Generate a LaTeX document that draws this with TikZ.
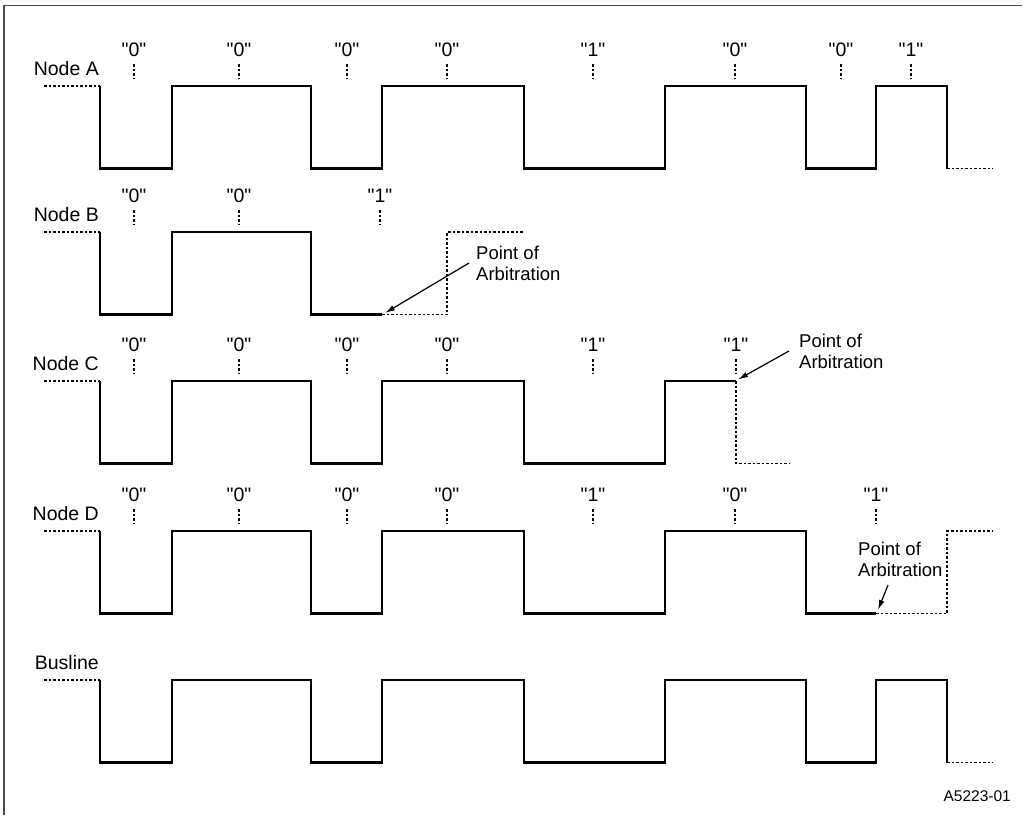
\documentclass[tikz,border=0pt]{standalone}
\usepackage{fontspec}
\setmainfont{Liberation Sans}
\newfontfamily\plainfont{Liberation Sans}
\usetikzlibrary{arrows.meta}
\begin{document}
\begin{tikzpicture}[x=1pt,y=-1pt,
  wave/.style={line width=2.6pt,line join=miter,line cap=butt},
  dots/.style={line width=1.2pt,dash pattern=on 2.5pt off 2pt},
  tick/.style={line width=1.1pt,dash pattern=on 2.5pt off 2pt},
  bit/.style={anchor=base,inner sep=0pt,font=\plainfont\fontsize{19.5}{21}\selectfont},
  rowlabel/.style={anchor=base east,inner sep=0pt,font=\plainfont\fontsize{19.5}{21}\selectfont},
  note/.style={anchor=west,inner sep=0pt,align=left,font=\plainfont\fontsize{18.5}{21}\selectfont},
  arr/.style={line width=1.2pt,-{Latex[length=10pt,width=5.5pt]}},
  frame/.style={line width=1.5pt,draw=black!70}]
\useasboundingbox (0,0) rectangle (1026,815);
\draw[frame] (4,815) -- (4,5.5) -- (1022,5.5);

% ---------- Node A ----------
\begin{scope}[shift={(0,86)}]
  \node[rowlabel] (labA) at (99,-10.5) {Node A};
  \foreach \x/\t [count=\i] in {134/0,239/0,347/0,447/0,593/1,735/0,841/0,911/1}{
    \node[bit] (A\i) at (\x,-30) {"\t"};
    \draw[tick] (\x,-22) -- (\x,-8);}
  \draw[dots] (44,0) -- (100,0);
  \draw[wave] (100,0) -- (100,82.5) -- (172,82.5) -- (172,0) -- (311,0) -- (311,82.5)
    -- (382,82.5) -- (382,0) -- (524,0) -- (524,82.5) -- (665,82.5) -- (665,0)
    -- (806,0) -- (806,82.5) -- (876,82.5) -- (876,0) -- (947,0) -- (947,82.5);
  \draw[dots] (947,82.5) -- (993,82.5);
\end{scope}

% ---------- Node B ----------
\begin{scope}[shift={(0,232)}]
  \node[rowlabel] (labB) at (99,-10.5) {Node B};
  \foreach \x/\t [count=\i] in {134/0,239/0,380/1}{
    \node[bit] (B\i) at (\x,-30) {"\t"};
    \draw[tick] (\x,-22) -- (\x,-8);}
  \draw[dots] (44,0) -- (100,0);
  \draw[wave] (100,0) -- (100,82.5) -- (172,82.5) -- (172,0) -- (311,0) -- (311,82.5)
    -- (382,82.5);
  \draw[dots] (382,82.5) -- (447,82.5) -- (447,0) -- (523,0);
  \node[note] (pB) at (476,31) {Point of\\Arbitration};
  \coordinate (tipB) at (385,81);
  \draw[arr] ([xshift=-7pt]pB.west) -- (tipB);
\end{scope}

% ---------- Node C ----------
\begin{scope}[shift={(0,381)}]
  \node[rowlabel] (labC) at (99,-10.5) {Node C};
  \foreach \x/\t [count=\i] in {134/0,239/0,347/0,447/0,593/1,736/1}{
    \node[bit] (C\i) at (\x,-30) {"\t"};
    \draw[tick] (\x,-22) -- (\x,-8);}
  \draw[dots] (44,0) -- (100,0);
  \draw[wave] (100,0) -- (100,82.5) -- (172,82.5) -- (172,0) -- (311,0) -- (311,82.5)
    -- (382,82.5) -- (382,0) -- (524,0) -- (524,82.5) -- (665,82.5) -- (665,0)
    -- (736,0);
  \draw[dots] (736,0) -- (736,82.5) -- (789,82.5);
  \node[note] (pC) at (799,-30) {Point of\\Arbitration};
  \coordinate (tipC) at (738,-1.5);
  \draw[arr] ([xshift=-10pt]pC.west) -- (tipC);
\end{scope}

% ---------- Node D ----------
\begin{scope}[shift={(0,531)}]
  \node[rowlabel] (labD) at (99,-10.5) {Node D};
  \foreach \x/\t [count=\i] in {134/0,239/0,347/0,447/0,593/1,735/0,876/1}{
    \node[bit] (D\i) at (\x,-30) {"\t"};
    \draw[tick] (\x,-22) -- (\x,-8);}
  \draw[dots] (44,0) -- (100,0);
  \draw[wave] (100,0) -- (100,82.5) -- (172,82.5) -- (172,0) -- (311,0) -- (311,82.5)
    -- (382,82.5) -- (382,0) -- (524,0) -- (524,82.5) -- (665,82.5) -- (665,0)
    -- (806,0) -- (806,82.5) -- (876,82.5);
  \draw[dots] (876,82.5) -- (947,82.5) -- (947,0) -- (993,0);
  \node[note] (pD) at (858,28) {Point of\\Arbitration};
  \coordinate (startD) at (888,54);
  \coordinate (tipD) at (878,79);
  \draw[arr] (startD) -- (tipD);
\end{scope}

% ---------- Busline ----------
\begin{scope}[shift={(0,680)}]
  \node[rowlabel] (labBus) at (99,-10.5) {Busline};
  \draw[dots] (44,0) -- (100,0);
  \draw[wave] (100,0) -- (100,82.5) -- (172,82.5) -- (172,0) -- (311,0) -- (311,82.5)
    -- (382,82.5) -- (382,0) -- (524,0) -- (524,82.5) -- (665,82.5) -- (665,0)
    -- (806,0) -- (806,82.5) -- (876,82.5) -- (876,0) -- (947,0) -- (947,82.5);
  \draw[dots] (947,82.5) -- (993,82.5);
\end{scope}

\node[anchor=base east,inner sep=0pt,font=\plainfont\fontsize{15.5}{17}\selectfont] (fig) at (1011,801.5) {A5223-01};
\end{tikzpicture}
\end{document}
